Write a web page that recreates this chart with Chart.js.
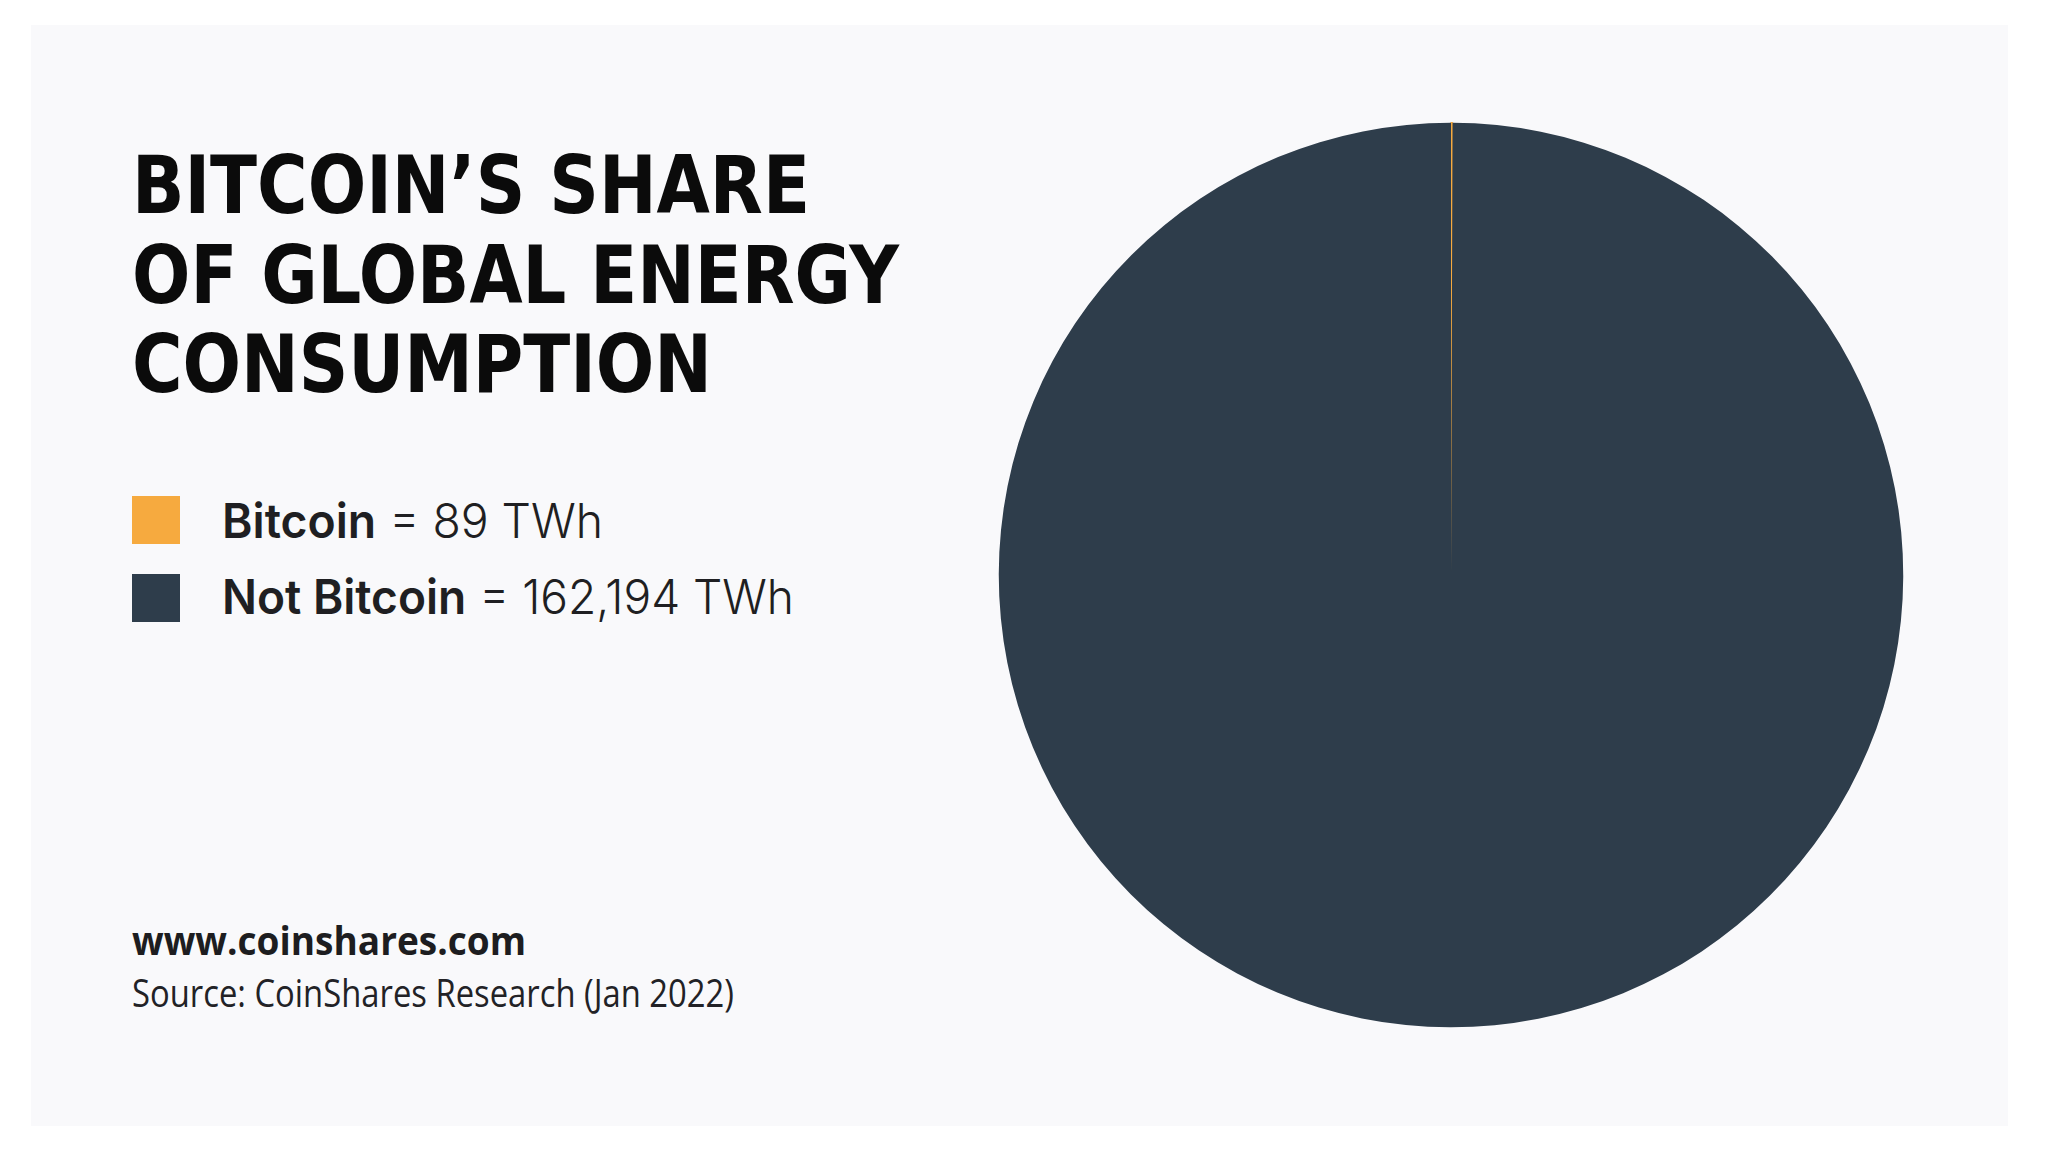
<!DOCTYPE html>
<html>
<head>
<meta charset="utf-8">
<script src="https://cdn.jsdelivr.net/npm/chart.js@4"></script>
<style>
  html, body { margin: 0; padding: 0; background: #ffffff; }
  body { width: 2048px; height: 1152px; position: relative; overflow: hidden; font-family: Inter, "Open Sans", sans-serif; }
  #panel { position: absolute; left: 31px; top: 25px; width: 1977px; height: 1101px; background: #f9f9fb; }
  .txt { position: absolute; white-space: nowrap; transform-origin: 0 0; line-height: 1; }
  .title { font-family: "DejaVu Sans Condensed", "DejaVu Sans", sans-serif; font-weight: bold; color: #0b0b0b; font-size: 81px; }
  .swatch { position: absolute; left: 132px; width: 48px; height: 48px; }
  .legend-text { font-size: 48px; color: #1f1f22; font-family: Inter, sans-serif; }
  .legend-text b { font-weight: 600; }
  .legend-text span { font-weight: 300; }
  .site { font-family: "Open Sans", sans-serif; font-weight: bold; font-size: 40px; color: #1d1d20; }
  .source { font-family: "Open Sans", sans-serif; font-weight: 400; font-size: 38px; color: #222226; }
  #chart-box { position: absolute; left: 991px; top: 115px; width: 920px; height: 920px; }
</style>
</head>
<body>
<div id="panel"></div>
<div id="chart-box"><canvas id="pie"></canvas></div>
<div id="overlay"></div>
<script>
const labels = ['Bitcoin', 'Not Bitcoin'];
const values = [89, 162194];   // TWh
const unit = 'TWh';
const colors = ['#f6aa3f', '#2e3d4b'];

const titleLines = ['BITCOIN\u2019S SHARE', 'OF GLOBAL ENERGY', 'CONSUMPTION'];
const siteText = 'www.coinshares.com';
const sourceText = 'Source: CoinShares Research (Jan 2022)';

const overlay = document.getElementById('overlay');

// place a text element so its baseline sits at y and it spans targetWidth
function placeText(html, cls, x, baseline, targetWidth) {
    const el = document.createElement('div');
    el.className = 'txt ' + cls;
    el.innerHTML = html;
    overlay.appendChild(el);
    // measure baseline offset with an inline marker
    const probe = document.createElement('span');
    probe.style.display = 'inline-block';
    probe.style.width = '0';
    probe.style.height = '0';
    el.appendChild(probe);
    const top0 = el.getBoundingClientRect().top;
    const baseOff = probe.getBoundingClientRect().top - top0;
    el.removeChild(probe);
    const w = el.getBoundingClientRect().width;
    const sx = targetWidth ? targetWidth / w : 1;
    el.style.left = x + 'px';
    el.style.top = (baseline - baseOff) + 'px';
    el.style.transform = 'scaleX(' + sx + ')';
    return el;
}

// title
const titleBase = [213, 303, 392];
const titleWidths = [678, 767, 580];
titleLines.forEach((t, i) => placeText(t, 'title', 132, titleBase[i], titleWidths[i]));

// legend
const swatchTop = [496, 574];
const legendBase = [538, 614];
const legendWidths = [381, 572];
labels.forEach((lab, i) => {
    const sw = document.createElement('div');
    sw.className = 'swatch';
    sw.style.top = swatchTop[i] + 'px';
    sw.style.background = colors[i];
    overlay.appendChild(sw);
    const html = '<b>' + lab + '</b><span> = ' + values[i].toLocaleString('en-US') + ' ' + unit + '</span>';
    placeText(html, 'legend-text', 222, legendBase[i], legendWidths[i]);
});

// footer
placeText(siteText, 'site', 132, 955, 394);
placeText(sourceText, 'source', 132, 1007, 602);

new Chart(document.getElementById('pie'), {
    type: 'pie',
    data: {
        labels: labels,
        datasets: [{
            data: values,
            backgroundColor: colors,
            borderColor: colors,
            borderWidth: [1.5, 0]
        }]
    },
    options: {
        responsive: true,
        maintainAspectRatio: false,
        animation: false,
        layout: { padding: 7 },
        plugins: {
            legend: { display: false },
            tooltip: { enabled: false }
        }
    }
});
</script>
</body>
</html>
